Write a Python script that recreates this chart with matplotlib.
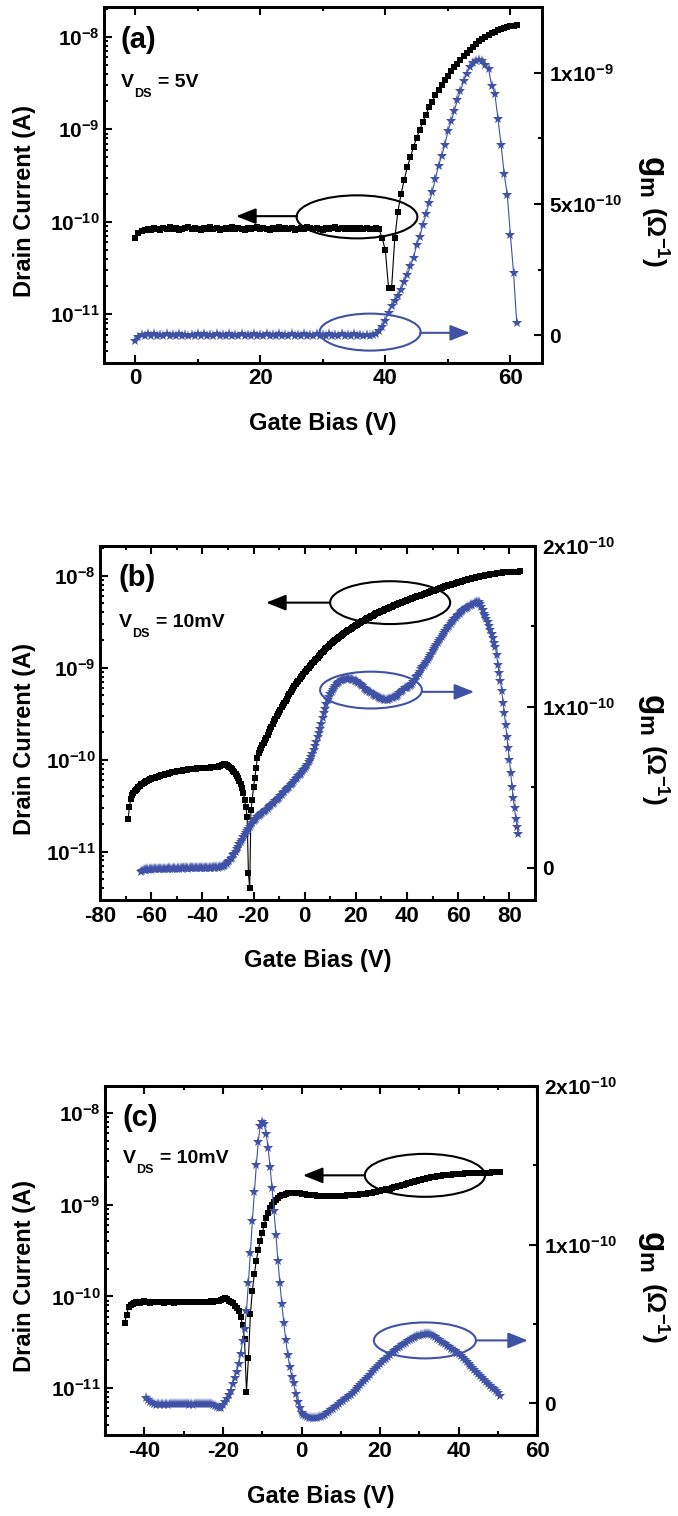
import numpy as np
import matplotlib
matplotlib.use('Agg')
import matplotlib.pyplot as plt
from matplotlib.patches import Ellipse
from matplotlib.ticker import (MultipleLocator, LogLocator, FixedLocator,
                               FixedFormatter, FuncFormatter, NullFormatter)

plt.rcParams['font.family'] = ['Liberation Sans', 'DejaVu Sans']
plt.rcParams['font.weight'] = 'bold'
plt.rcParams['axes.unicode_minus'] = False
plt.rcParams['mathtext.fontset'] = 'custom'
plt.rcParams['mathtext.rm'] = 'Liberation Sans:bold'
plt.rcParams['mathtext.it'] = 'Liberation Sans:bold'
plt.rcParams['mathtext.bf'] = 'Liberation Sans:bold'

W, H = 678, 1516
BLUE = '#3F52A6'

# ---------------- data ----------------
# gate bias grids all use a 0.5 V step; Id is given as log10(A)

# (a) VDS = 5 V
vg_a_id_start = 0.0
log_id_a = [
    -10.174, -10.12,
    -10.10, -10.09, -10.08, -10.09, -10.07, -10.08, -10.09, -10.07, -10.08, -10.06,
    -10.08, -10.07, -10.09, -10.08, -10.07, -10.06, -10.08, -10.07, -10.08, -10.09,
    -10.07, -10.08, -10.06, -10.08, -10.07, -10.09, -10.08, -10.07, -10.08, -10.06,
    -10.08, -10.07, -10.08, -10.09, -10.07, -10.08, -10.07, -10.06, -10.08, -10.07,
    -10.08, -10.09, -10.07, -10.08, -10.06, -10.08, -10.07, -10.08, -10.07, -10.09,
    -10.08, -10.07, -10.08, -10.06, -10.07, -10.08, -10.07, -10.08, -10.09, -10.07,
    -10.08, -10.07, -10.06, -10.08, -10.07, -10.08, -10.07, -10.08, -10.07, -10.08,
    -10.07, -10.08, -10.07, -10.08, -10.08, -10.07, -10.08,
    -10.18, -10.31, -10.71, -10.71, -10.18, -9.89, -9.70, -9.55, -9.41, -9.30,
    -9.19, -9.09, -9.005,
    -8.92, -8.84, -8.76, -8.70, -8.63, -8.575, -8.52, -8.47, -8.42, -8.375,
    -8.33, -8.29, -8.25, -8.21, -8.175, -8.14, -8.11, -8.08, -8.05, -8.025,
    -8.0, -7.98, -7.96, -7.945, -7.93, -7.915, -7.905, -7.895, -7.885, -7.88,
    -7.875,
]
vg_a_gm_start = 0.0
gm_a = [  # x 1e-9 S
    -0.022,
    -0.006, 0.002, -0.004, 0.003, -0.002, 0.004, -0.005, 0.001, -0.003, 0.003,
    -0.004, 0.002, -0.002, 0.004, -0.005, 0.001, -0.003, 0.002, -0.004, 0.003,
    -0.002, 0.004, -0.005, 0.001, -0.003, 0.003, -0.004, 0.002, -0.002, 0.003,
    -0.005, 0.001, -0.003, 0.004, -0.004, 0.002, -0.002, 0.003, -0.005, 0.001,
    -0.003, 0.003, -0.004, 0.002, -0.002, 0.004, -0.005, 0.001, -0.003, 0.003,
    -0.004, 0.002, -0.002, 0.003, -0.005, 0.001, -0.003, 0.004, -0.004, 0.002,
    -0.002, 0.003, -0.005, 0.001, -0.003, 0.003, -0.004, 0.002, -0.002, 0.003,
    -0.004, 0.001, -0.003, 0.002, -0.002,
    0.0, 0.005, 0.015, 0.03, 0.055, 0.085, 0.11, 0.13, 0.15, 0.172,
    0.203, 0.229, 0.262, 0.295, 0.344, 0.375, 0.42, 0.46, 0.505, 0.547,
    0.595, 0.646, 0.683, 0.725, 0.776, 0.814, 0.852, 0.895, 0.929, 0.967,
    0.996, 1.02, 1.035, 1.045, 1.05, 1.045, 1.03, 1.015, 0.95, 0.92,
    0.825, 0.725, 0.615, 0.533, 0.38, 0.236, 0.048,
]

# (b) VDS = 10 mV
vg_b_id_start = -69.0
log_id_b = [
    -10.65, -10.51, -10.43, -10.39, -10.36, -10.345, -10.33, -10.315, -10.30, -10.285,
    -10.27, -10.26, -10.25, -10.243, -10.235, -10.228, -10.22, -10.215, -10.21, -10.205,
    -10.20, -10.195, -10.19, -10.185, -10.18, -10.175, -10.17, -10.166, -10.162, -10.158,
    -10.155, -10.151, -10.147, -10.143, -10.14, -10.137, -10.133, -10.13, -10.127, -10.125,
    -10.123, -10.121, -10.12, -10.117, -10.115, -10.112, -10.11, -10.107, -10.105, -10.102,
    -10.10, -10.099, -10.098, -10.097, -10.096, -10.095, -10.094, -10.093, -10.092, -10.091,
    -10.09, -10.09, -10.09, -10.088, -10.087, -10.085, -10.083, -10.081, -10.079, -10.077,
    -10.075, -10.07, -10.065, -10.06, -10.055, -10.05, -10.05, -10.055, -10.065, -10.075,
    -10.09, -10.105, -10.12, -10.14, -10.16, -10.18, -10.205, -10.235, -10.27, -10.31,
    -10.36, -10.435, -10.515, -10.624, -11.235, -11.40, -10.55, -10.435, -10.30, -10.20,
    -10.09, -9.98, -9.93, -9.90, -9.87, -9.845, -9.82, -9.79, -9.76, -9.73,
    -9.70, -9.67, -9.64, -9.61, -9.58, -9.555, -9.53, -9.505, -9.48, -9.455,
    -9.43, -9.405, -9.38, -9.358, -9.335, -9.313, -9.29, -9.268, -9.245, -9.222,
    -9.20, -9.18, -9.16, -9.14, -9.12, -9.103, -9.085, -9.068, -9.05, -9.033,
    -9.015, -8.998, -8.98, -8.965, -8.95, -8.935, -8.92, -8.905, -8.89, -8.875,
    -8.86, -8.845, -8.83, -8.815, -8.80, -8.786, -8.772, -8.759, -8.745, -8.734,
    -8.723, -8.711, -8.70, -8.689, -8.678, -8.666, -8.655, -8.645, -8.635, -8.625,
    -8.615, -8.605, -8.595, -8.585, -8.575, -8.566, -8.558, -8.549, -8.54, -8.531,
    -8.523, -8.514, -8.505, -8.496, -8.488, -8.479, -8.47, -8.463, -8.455, -8.448,
    -8.44, -8.433, -8.425, -8.418, -8.41, -8.404, -8.398, -8.391, -8.385, -8.379,
    -8.373, -8.366, -8.36, -8.354, -8.348, -8.341, -8.335, -8.329, -8.323, -8.316,
    -8.31, -8.305, -8.30, -8.295, -8.29, -8.284, -8.278, -8.271, -8.265, -8.26,
    -8.255, -8.25, -8.245, -8.24, -8.235, -8.23, -8.225, -8.22, -8.215, -8.21,
    -8.205, -8.20, -8.195, -8.19, -8.185, -8.18, -8.175, -8.17, -8.165, -8.16,
    -8.155, -8.15, -8.145, -8.14, -8.135, -8.13, -8.125, -8.12, -8.115, -8.11,
    -8.105, -8.101, -8.098, -8.094, -8.09, -8.085, -8.08, -8.075, -8.07, -8.066,
    -8.063, -8.059, -8.055, -8.051, -8.048, -8.044, -8.04, -8.036, -8.033, -8.029,
    -8.025, -8.021, -8.018, -8.014, -8.01, -8.007, -8.004, -8.001, -7.998, -7.995,
    -7.992, -7.99, -7.987, -7.985, -7.982, -7.98, -7.977, -7.975, -7.973, -7.97,
    -7.968, -7.967, -7.965, -7.964, -7.962, -7.961, -7.96, -7.959, -7.958, -7.957,
    -7.957, -7.956, -7.955, -7.955, -7.954, -7.954, -7.953,
]
vg_b_gm_start = -64.0
gm_b = [  # x 1e-10 S
    -0.027, -0.02, -0.016, -0.012, -0.014, -0.01, -0.012, -0.008, -0.011, -0.009,
    -0.01, -0.007, -0.009, -0.006, -0.008, -0.007, -0.009, -0.006, -0.007, -0.005,
    -0.007, -0.006, -0.004, -0.006, -0.005, -0.007, -0.004, -0.006, -0.005, -0.004,
    -0.006, -0.003, -0.005, -0.004, -0.002, -0.004, -0.003, -0.005, -0.002, -0.003,
    -0.004, -0.002, -0.003, -0.001, -0.003, -0.002, -0.001, -0.003, 0.0, -0.002,
    -0.001, 0.0, -0.002, 0.001, -0.001, 0.0, 0.002, 0.0, 0.001, 0.002,
    0.001, 0.003, 0.004, 0.006, 0.01, 0.013, 0.018, 0.025, 0.035, 0.043,
    0.052, 0.064, 0.077, 0.088, 0.10, 0.115, 0.13, 0.145, 0.16, 0.175,
    0.19, 0.204, 0.218, 0.231, 0.243, 0.254, 0.265, 0.277, 0.288, 0.297,
    0.305, 0.313, 0.32, 0.327, 0.333, 0.339, 0.345, 0.352, 0.36, 0.368,
    0.375, 0.383, 0.39, 0.398, 0.405, 0.413, 0.42, 0.428, 0.437, 0.446,
    0.455, 0.463, 0.472, 0.481, 0.49, 0.497, 0.505, 0.512, 0.52, 0.53,
    0.54, 0.55, 0.56, 0.569, 0.578, 0.586, 0.595, 0.605, 0.615, 0.627,
    0.64, 0.655, 0.67, 0.69, 0.71, 0.735, 0.76, 0.785, 0.81, 0.835,
    0.86, 0.895, 0.93, 0.96, 0.99, 1.015, 1.04, 1.06, 1.08, 1.095,
    1.108, 1.12, 1.13, 1.14, 1.148, 1.155, 1.16, 1.165, 1.168, 1.171,
    1.173, 1.174, 1.175, 1.174, 1.172, 1.169, 1.165, 1.162, 1.158, 1.154,
    1.15, 1.143, 1.135, 1.128, 1.12, 1.112, 1.105, 1.10, 1.095, 1.091,
    1.088, 1.081, 1.075, 1.07, 1.065, 1.061, 1.057, 1.053, 1.05, 1.048,
    1.046, 1.045, 1.045, 1.046, 1.048, 1.05, 1.053, 1.056, 1.06, 1.064,
    1.068, 1.076, 1.085, 1.092, 1.10, 1.107, 1.115, 1.118, 1.12, 1.125,
    1.13, 1.137, 1.145, 1.157, 1.17, 1.183, 1.195, 1.207, 1.22, 1.233,
    1.245, 1.255, 1.265, 1.277, 1.29, 1.302, 1.315, 1.33, 1.345, 1.357,
    1.37, 1.383, 1.395, 1.408, 1.42, 1.433, 1.445, 1.458, 1.47, 1.483,
    1.495, 1.505, 1.515, 1.525, 1.535, 1.545, 1.555, 1.564, 1.572, 1.58,
    1.588, 1.594, 1.60, 1.606, 1.612, 1.617, 1.622, 1.627, 1.632, 1.636,
    1.64, 1.644, 1.647, 1.649, 1.65, 1.64, 1.62, 1.60, 1.58, 1.565,
    1.545, 1.525, 1.50, 1.48, 1.455, 1.43, 1.40, 1.37, 1.32, 1.26,
    1.21, 1.16, 1.10, 1.025, 0.962, 0.889, 0.816, 0.744, 0.671, 0.587,
    0.504, 0.431, 0.369, 0.306, 0.254, 0.2125,
]

# (c) VDS = 10 mV
vg_c_id_start = -45.0
log_id_c = [
    -10.293, -10.20, -10.12, -10.09, -10.08, -10.07, -10.06, -10.065, -10.07, -10.06,
    -10.055, -10.065, -10.06, -10.07, -10.058, -10.062, -10.066, -10.057, -10.063, -10.06,
    -10.068, -10.059, -10.064, -10.056, -10.062, -10.067, -10.058, -10.061, -10.065, -10.057,
    -10.063, -10.06, -10.066, -10.058, -10.062, -10.059, -10.064, -10.057, -10.061, -10.06,
    -10.058, -10.063, -10.057, -10.06, -10.055, -10.058, -10.052, -10.054, -10.048, -10.04,
    -10.025, -10.02, -10.03, -10.045, -10.06, -10.075, -10.10, -10.125, -10.16, -10.22,
    -10.31, -10.468, -11.039, -10.668, -10.19, -9.938, -9.756, -9.61, -9.494, -9.393,
    -9.305, -9.221, -9.148, -9.09, -9.04, -9.0, -8.97, -8.945, -8.925, -8.91,
    -8.898, -8.889, -8.882, -8.877, -8.874, -8.872, -8.872, -8.873, -8.875, -8.877,
    -8.88, -8.883, -8.886, -8.889, -8.892, -8.894, -8.896, -8.898, -8.90, -8.901,
    -8.902, -8.903, -8.904, -8.904, -8.905, -8.905, -8.905, -8.904, -8.904, -8.903,
    -8.902, -8.901, -8.90, -8.899, -8.898, -8.897, -8.896, -8.894, -8.892, -8.89,
    -8.887, -8.884, -8.881, -8.878, -8.875, -8.871, -8.867, -8.862, -8.857, -8.852,
    -8.847, -8.842, -8.837, -8.833, -8.83, -8.824, -8.818, -8.812, -8.806, -8.80,
    -8.795, -8.788, -8.782, -8.775, -8.768, -8.762, -8.755, -8.749, -8.743, -8.737,
    -8.731, -8.726, -8.72, -8.715, -8.71, -8.706, -8.701, -8.697, -8.693, -8.69,
    -8.687, -8.684, -8.68, -8.678, -8.675, -8.673, -8.671, -8.669, -8.667, -8.665,
    -8.663, -8.662, -8.66, -8.659, -8.658, -8.657, -8.656, -8.654, -8.653, -8.652,
    -8.652, -8.651, -8.651, -8.65, -8.65, -8.649, -8.649, -8.648, -8.648, -8.648,
    -8.647, -8.647,
]
vg_c_gm_start = -39.5
gm_c = [  # x 1e-10 S
    0.035, 0.02, 0.008, 0.0, -0.005, -0.008, -0.006, -0.01, -0.007, -0.009,
    -0.006, -0.008, -0.005, -0.007, -0.004, -0.006, -0.003, -0.005, -0.004, -0.002,
    -0.004, -0.006, -0.008, -0.006, -0.009, -0.007, -0.005, -0.007, -0.004, -0.006,
    -0.003, -0.005, -0.002, -0.004, -0.008, -0.015, -0.025, -0.032, -0.028, -0.01,
    0.005, 0.025, 0.05, 0.08, 0.12, 0.16, 0.2, 0.245, 0.31, 0.39,
    0.47, 0.58, 0.76, 0.95, 1.15, 1.33, 1.50, 1.65, 1.75, 1.775,
    1.76, 1.70, 1.61, 1.49, 1.36, 1.21, 1.06, 0.90, 0.756, 0.624,
    0.504, 0.399, 0.304, 0.231, 0.168, 0.126, 0.059, 0.01, -0.032, -0.063,
    -0.075, -0.082, -0.088, -0.092, -0.094, -0.095, -0.094, -0.092, -0.089, -0.085,
    -0.08, -0.072, -0.064, -0.055, -0.045, -0.035, -0.025, -0.015, -0.005, 0.005,
    0.015, 0.025, 0.035, 0.045, 0.055, 0.066, 0.078, 0.09, 0.103, 0.116,
    0.129, 0.142, 0.155, 0.168, 0.181, 0.194, 0.207, 0.22, 0.233, 0.246,
    0.258, 0.27, 0.282, 0.294, 0.306, 0.317, 0.328, 0.338, 0.348, 0.357,
    0.366, 0.374, 0.382, 0.39, 0.397, 0.404, 0.41, 0.416, 0.421, 0.426,
    0.43, 0.433, 0.435, 0.436, 0.434, 0.43, 0.424, 0.417, 0.408, 0.398,
    0.389, 0.38, 0.371, 0.362, 0.353, 0.345, 0.337, 0.328, 0.318, 0.308,
    0.297, 0.285, 0.273, 0.26, 0.248, 0.235, 0.222, 0.21, 0.198, 0.186,
    0.173, 0.16, 0.148, 0.135, 0.122, 0.11, 0.099, 0.088, 0.075, 0.062,
    0.045,
]

# axis ticks and labels
id_ticks = [1e-11, 1e-10, 1e-9, 1e-8]
x_ticks_a = [0, 20, 40, 60]
x_ticks_b = [-80, -60, -40, -20, 0, 20, 40, 60, 80]
x_ticks_c = [-40, -20, 0, 20, 40, 60]
gm_ticks_a = [0, 5e-10, 1e-9]
gm_labels_a = [r'$\mathbf{0}$', r'$\mathbf{5x10^{-10}}$', r'$\mathbf{1x10^{-9}}$']
gm_ticks_bc = [0, 1e-10, 2e-10]
gm_labels_bc = [r'$\mathbf{0}$', r'$\mathbf{1x10^{-10}}$', r'$\mathbf{2x10^{-10}}$']

STEP = 0.5


def log_fmt(v, pos):
    return r'$\mathbf{10^{%d}}$' % int(round(np.log10(v)))


fig = plt.figure(figsize=(W / 100, H / 100), dpi=100)


def fig_xy(px, py):
    return px / W, 1 - py / H


def panel(box, id_start, log_id, gm_start, gm, unit, xlim, xticks, ylim_id, ylim_gm,
          gm_ticks, gm_labels, gm_minor, letter, vds, marks):
    x0, y0, x1, y1 = box
    rect = [x0 / W, 1 - y1 / H, (x1 - x0) / W, (y1 - y0) / H]
    ax = fig.add_axes(rect)
    vg_id = id_start + STEP * np.arange(len(log_id))
    ax.plot(vg_id, 10 ** np.array(log_id), 's-', color='k', ms=5.0, lw=0.8,
            mew=0)
    ax.set_yscale('log')
    ax.set_xlim(*xlim)
    ax.set_ylim(*ylim_id)
    ax.xaxis.set_major_locator(FixedLocator(xticks))
    ax.xaxis.set_minor_locator(MultipleLocator(10))
    ax.yaxis.set_major_locator(FixedLocator(id_ticks))
    ax.yaxis.set_minor_locator(LogLocator(base=10, subs=np.arange(2, 10), numticks=20))
    ax.yaxis.set_major_formatter(FuncFormatter(log_fmt))
    ax.yaxis.set_minor_formatter(NullFormatter())
    ax.tick_params(which='both', direction='in', width=1.5, top=True, right=False)
    ax.tick_params(which='major', length=6)
    ax.tick_params(which='minor', length=3)
    ax.tick_params(axis='x', labelsize=16, pad=4)
    ax.tick_params(axis='y', labelsize=15, pad=3)

    ax2 = ax.twinx()
    vg_gm = gm_start + STEP * np.arange(len(gm))
    ax2.plot(vg_gm, np.array(gm) * unit, '*-', color=BLUE, ms=8, lw=0.8, mew=0)
    ax2.set_ylim(*ylim_gm)
    ax2.yaxis.set_major_locator(FixedLocator(gm_ticks))
    ax2.yaxis.set_major_formatter(FixedFormatter(gm_labels))
    ax2.yaxis.set_minor_locator(MultipleLocator(gm_minor))
    ax2.tick_params(which='both', direction='in', width=1.5, right=True, left=False,
                    labelsize=15, pad=5)
    ax2.tick_params(which='major', length=6)
    ax2.tick_params(which='minor', length=3)
    for a in (ax, ax2):
        for s in a.spines.values():
            s.set_linewidth(2)

    # ovals and arrows pointing to the matching axis
    (bc, bw, bh, bt, bhd, by), (uc, uw, uh, ut, uhd, uy) = marks
    arrow = '-|>,head_length=0.75,head_width=0.3'
    ax2.add_patch(Ellipse(bc, bw, bh, transform=ax2.transAxes, fill=False,
                          ec='k', lw=1.5))
    ax2.annotate('', xy=(bhd, by), xytext=(bt, by), xycoords='axes fraction',
                 arrowprops=dict(arrowstyle=arrow, color='k', lw=1.5,
                                 mutation_scale=16, shrinkA=0, shrinkB=0))
    ax2.add_patch(Ellipse(uc, uw, uh, transform=ax2.transAxes, fill=False,
                          ec=BLUE, lw=1.5))
    ax2.annotate('', xy=(uhd, uy), xytext=(ut, uy), xycoords='axes fraction',
                 arrowprops=dict(arrowstyle=arrow, color=BLUE, lw=1.5,
                                 mutation_scale=16, shrinkA=0, shrinkB=0))

    # texts (pixel positions of the reference)
    yc = (y0 + y1) / 2
    fig.text(*fig_xy(25, yc + 16), 'Drain Current (A)', rotation=90,
             ha='center', va='center', fontsize=17)
    fig.text(*fig_xy((x0 + x1) / 2, y1 + 61), 'Gate Bias (V)',
             ha='center', va='center', fontsize=17)
    fig.text(*fig_xy(652, yc - 9), r'$\mathbf{g_m}$',
             rotation=-90, ha='center', va='center', fontsize=24)
    fig.text(*fig_xy(654, yc + 52), r'(Ω$^{\mathbf{-1}}$)',
             rotation=-90, ha='center', va='center', fontsize=19)
    lx, ly, ltxt = letter
    fig.text(*fig_xy(lx, ly), ltxt, ha='left', va='center', fontsize=21)
    vx, vy, vtxt = vds
    fig.text(*fig_xy(vx, vy), 'V', ha='left', va='baseline', fontsize=14)
    fig.text(*fig_xy(vx + 13, vy + 10), 'DS', ha='left', va='baseline', fontsize=9)
    fig.text(*fig_xy(vx + 37, vy), vtxt, ha='left', va='baseline', fontsize=14)
    return ax, ax2


panel((104, 7, 541.7, 362.7), vg_a_id_start, log_id_a, vg_a_gm_start, gm_a, 1e-9,
      (-5, 65), x_ticks_a, (3.0e-12, 2.1e-8), (-1.05e-10, 1.25e-9),
      gm_ticks_a, gm_labels_a, 2.5e-10, (121, 40.5, '(a)'), (121, 87.3, '= 5V'),
      (((0.578, 0.410), 0.276, 0.121, 0.441, 0.302, 0.412),
       ((0.608, 0.086), 0.231, 0.104, 0.722, 0.836, 0.084)))

panel((100, 546, 535, 900), vg_b_id_start, log_id_b, vg_b_gm_start, gm_b, 1e-10,
      (-80, 90), x_ticks_b, (2.97e-12, 2.11e-8), (-0.2e-10, 2.0e-10),
      gm_ticks_bc, gm_labels_bc, 0.5e-10, (119, 578.5, '(b)'), (119, 627, '= 10mV'),
      (((0.667, 0.840), 0.276, 0.121, 0.529, 0.382, 0.840),
       ((0.623, 0.593), 0.234, 0.104, 0.740, 0.860, 0.588)))

panel((105, 1086, 537.3, 1435), vg_c_id_start, log_id_c, vg_c_gm_start, gm_c, 1e-10,
      (-50, 60), x_ticks_c, (3.08e-12, 1.97e-8), (-0.2e-10, 2.0e-10),
      gm_ticks_bc, gm_labels_bc, 0.5e-10, (123, 1117.5, '(c)'), (123, 1163, '= 10mV'),
      (((0.740, 0.744), 0.278, 0.123, 0.601, 0.458, 0.744),
       ((0.740, 0.271), 0.236, 0.103, 0.858, 0.978, 0.271)))

fig.savefig('out.png', dpi=100)
